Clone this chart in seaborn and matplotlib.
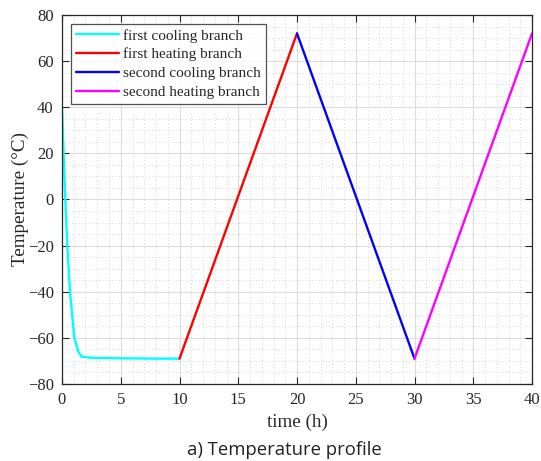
import numpy as np
import pandas as pd
import matplotlib
matplotlib.use("Agg")
import matplotlib.pyplot as plt
import seaborn as sns
from matplotlib.ticker import MultipleLocator

# Data
cool1_t = [0, 0.14, 0.28, 0.45, 0.68, 1.05, 1.4, 1.67, 2.5, 4, 6, 8, 10]
cool1_T = [40, 20, 0, -20, -40, -60, -66, -68.2, -68.6, -68.8, -68.9, -69, -69]
heat1_t = [10, 20]
heat1_T = [-69, 72]
cool2_t = [20, 30]
cool2_T = [72, -69]
heat2_t = [30, 40]
heat2_T = [-69, 72]
branches = ["first cooling branch", "first heating branch",
            "second cooling branch", "second heating branch"]
colors = ["#00FFFF", "#FF0000", "#0000FF", "#FF00FF"]

frames = []
for name, t, T in zip(branches, [cool1_t, heat1_t, cool2_t, heat2_t],
                      [cool1_T, heat1_T, cool2_T, heat2_T]):
    frames.append(pd.DataFrame({"time": t, "temp": T, "branch": name}))
df = pd.concat(frames, ignore_index=True)

sns.set_theme(style="white")
plt.rcParams["font.family"] = ["Liberation Serif", "DejaVu Serif"]
plt.rcParams["mathtext.fontset"] = "stix"

fig = plt.figure(figsize=(5.41, 4.61), dpi=100)
ax = fig.add_axes([0.1146, 0.167, 0.8688, 0.8005])

sns.lineplot(data=df, x="time", y="temp", hue="branch", hue_order=branches,
             palette=colors, linewidth=1.7, sort=False, estimator=None,
             ax=ax)

ax.set_xlim(0, 40)
ax.set_ylim(-80, 80)
ax.xaxis.set_major_locator(MultipleLocator(5))
ax.yaxis.set_major_locator(MultipleLocator(20))
ax.xaxis.set_minor_locator(MultipleLocator(1))
ax.yaxis.set_minor_locator(MultipleLocator(5))
ax.grid(which="major", color="#dcdcdc", linewidth=0.8, linestyle="-")
ax.grid(which="minor", color="#c8c8c8", linewidth=0.6, linestyle=(0, (1, 3)))
ax.set_axisbelow(True)
ax.tick_params(which="major", direction="in", length=5, width=0.8,
               top=True, right=True, labelsize=12, colors="#262626",
               pad=6, bottom=True, left=True)
ax.tick_params(which="minor", length=0)
for s in ax.spines.values():
    s.set_color("#262626")
    s.set_linewidth(0.9)

ax.set_xlabel("time (h)", fontsize=13.8, color="#262626", labelpad=3.5)
ax.set_ylabel("Temperature (°C)", fontsize=13.8, color="#262626", labelpad=-1)

leg = ax.legend(loc="upper left", fontsize=11, frameon=True, fancybox=False,
                borderaxespad=0.57, handlelength=2.8, handletextpad=0.3,
                labelspacing=0.34, borderpad=0.33)
leg.get_frame().set_edgecolor("#262626")
leg.get_frame().set_linewidth(0.9)
for line in leg.get_lines():
    line.set_linewidth(1.7)

fig.text(0.525, 0.024, "a) Temperature profile", ha="center", va="center",
         fontsize=13.3, family=["Open Sans", "DejaVu Sans"], color="#222222")

fig.savefig("out.png", dpi=100)
